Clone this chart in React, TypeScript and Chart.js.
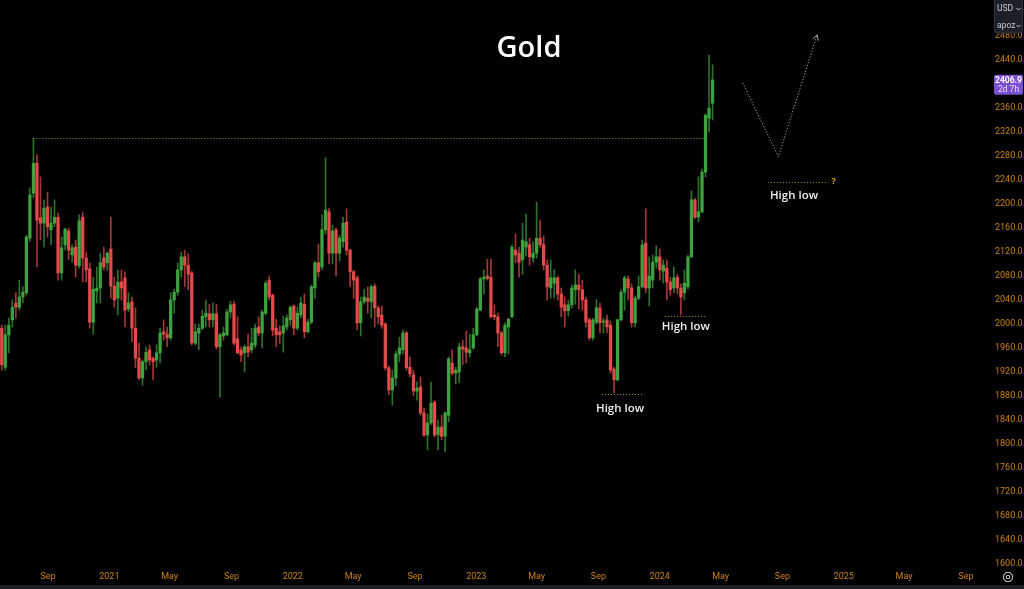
import React, { useEffect, useRef } from "react";
import { Chart, registerables } from "chart.js";

Chart.register(...registerables);

// ---------- DATA ----------
const weekStart = "2020-06-01"; // Monday of the first weekly candle

const opens = [
  1993, 1928, 1982, 2007, 2035, 2028, 2045, 2052, 2143, 2218,
  2268, 2177, 2168, 2195, 2157, 2168, 2178, 2085, 2132, 2155,
  2115, 2128, 2097, 2178, 2110, 2092, 2003, 2055, 2060, 2110,
  2102, 2125, 2063, 2043, 2070, 2077, 2025, 2037, 1993, 1943,
  1910, 1937, 1957, 1943, 1940, 1952, 1987, 1983, 1977, 2040,
  2053, 2090, 2112, 2098, 2085, 1968, 1985, 1993, 2012, 2017,
  2007, 2017, 1962, 1980, 1982, 2020, 2033, 1975, 1957, 1952,
  1962, 1957, 1965, 1995, 1985, 2018, 2073, 2048, 1993, 1987,
  1985, 1995, 2007, 2030, 1993, 2015, 2033, 1987, 2003, 2060,
  2102, 2095, 2157, 2187, 2118, 2157, 2118, 2137, 2170, 2123,
  2087, 2077, 2002, 2037, 2043, 2037, 2063, 2027, 2015, 2000,
  1927, 1890, 1910, 1950, 1957, 1985, 1928, 1915, 1888, 1895,
  1852, 1815, 1835, 1870, 1815, 1828, 1813, 1848, 1935, 1918,
  1920, 1962, 1960, 1952, 1960, 1982, 2023, 2075, 2080, 2078,
  2015, 2012, 1985, 1952, 1995, 2012, 2123, 2118, 2107, 2128,
  2132, 2110, 2118, 2143, 2132, 2098, 2060, 2068, 2077, 2050,
  2032, 2022, 2032, 2057, 2065, 2057, 2040, 2007, 1977, 2003,
  2027, 2003, 2007, 1998, 1925, 1907, 2007, 2053, 2075, 2060,
  2002, 2043, 2062, 2135, 2060, 2073, 2103, 2112, 2088, 2093,
  2070, 2060, 2078, 2060, 2052, 2062, 2112, 2207, 2178, 2187,
  2253, 2343, 2368,
];

const highs = [
  1998, 1998, 2010, 2040, 2052, 2073, 2062, 2148, 2227, 2310,
  2282, 2245, 2207, 2220, 2195, 2207, 2185, 2145, 2160, 2160,
  2132, 2140, 2182, 2187, 2120, 2102, 2078, 2095, 2118, 2128,
  2120, 2178, 2078, 2090, 2090, 2087, 2052, 2045, 2027, 1968,
  1940, 1962, 1965, 1945, 1965, 1993, 2007, 1995, 2052, 2058,
  2102, 2120, 2123, 2117, 2088, 2000, 2000, 2023, 2040, 2033,
  2035, 2033, 1985, 1995, 2025, 2038, 2038, 2012, 1962, 1965,
  1983, 1993, 2000, 2012, 2023, 2072, 2080, 2050, 2008, 1997,
  2013, 2015, 2030, 2032, 2028, 2045, 2050, 2008, 2065, 2105,
  2133, 2182, 2277, 2193, 2165, 2160, 2148, 2178, 2192, 2125,
  2090, 2080, 2045, 2058, 2062, 2065, 2067, 2030, 2030, 2002,
  1930, 1923, 1955, 1978, 1990, 1988, 1945, 1923, 1903, 1912,
  1860, 1850, 1903, 1872, 1840, 1848, 1853, 1945, 1957, 1928,
  1968, 1973, 1988, 1983, 1993, 2028, 2078, 2090, 2108, 2108,
  2032, 2018, 1988, 2002, 2010, 2132, 2150, 2128, 2168, 2183,
  2143, 2137, 2203, 2173, 2147, 2107, 2107, 2090, 2080, 2060,
  2045, 2040, 2065, 2090, 2083, 2073, 2045, 2010, 2010, 2040,
  2035, 2010, 2015, 2005, 1928, 2008, 2057, 2080, 2080, 2067,
  2047, 2080, 2140, 2192, 2112, 2115, 2130, 2125, 2107, 2107,
  2078, 2095, 2083, 2067, 2090, 2115, 2222, 2210, 2245, 2258,
  2350, 2448, 2432,
];

const lows = [
  1923, 1923, 1952, 1995, 2010, 2023, 2035, 2048, 2138, 2210,
  2095, 2140, 2128, 2145, 2132, 2162, 2073, 2073, 2123, 2107,
  2103, 2078, 2093, 2070, 2070, 1993, 1983, 2035, 2035, 2090,
  2090, 2043, 2028, 2015, 2040, 1995, 2020, 1970, 1927, 1907,
  1898, 1923, 1932, 1907, 1928, 1935, 1973, 1962, 1973, 2018,
  2048, 2078, 2062, 2057, 1965, 1965, 1957, 1990, 1995, 1995,
  1995, 1958, 1878, 1973, 1980, 2010, 1965, 1950, 1937, 1920,
  1945, 1952, 1960, 1980, 1960, 2015, 2040, 1980, 1962, 1968,
  1953, 1990, 1998, 1982, 1990, 2010, 1977, 1985, 2000, 2043,
  2078, 2090, 2150, 2100, 2100, 2080, 2105, 2128, 2115, 2062,
  2043, 1990, 1980, 2033, 2018, 2010, 1995, 2000, 1993, 1923,
  1882, 1865, 1897, 1937, 1950, 1923, 1912, 1880, 1873, 1848,
  1812, 1790, 1832, 1812, 1790, 1807, 1787, 1837, 1915, 1900,
  1902, 1932, 1935, 1945, 1958, 1980, 2022, 2050, 2073, 2010,
  2007, 1962, 1948, 1945, 1950, 2010, 2102, 2078, 2083, 2113,
  2098, 2103, 2110, 2128, 2090, 2040, 2043, 2043, 2040, 2012,
  1995, 2013, 2027, 2033, 2025, 2023, 1995, 1973, 1973, 2000,
  1985, 1985, 1985, 1918, 1885, 1905, 2005, 2023, 2040, 1995,
  1995, 2040, 2060, 2052, 2030, 2060, 2093, 2073, 2068, 2040,
  2048, 2052, 2050, 2015, 2040, 2058, 2110, 2175, 2170, 2185,
  2245, 2320, 2340,
];

const closes = [
  1932, 1982, 1998, 2028, 2028, 2045, 2053, 2145, 2215, 2268,
  2173, 2168, 2193, 2162, 2168, 2178, 2085, 2127, 2158, 2123,
  2127, 2098, 2172, 2110, 2090, 2003, 2058, 2060, 2102, 2095,
  2118, 2063, 2040, 2070, 2060, 2023, 2035, 1993, 1943, 1910,
  1937, 1953, 1940, 1937, 1952, 1985, 1983, 1977, 2040, 2053,
  2090, 2112, 2098, 2083, 1968, 1987, 1993, 2013, 2018, 2007,
  2017, 1962, 1982, 1985, 2020, 2032, 1968, 1952, 1948, 1962,
  1953, 1968, 1993, 1985, 2020, 2068, 2045, 1990, 1982, 1982,
  1997, 2010, 2028, 1993, 2018, 2035, 1987, 2003, 2062, 2102,
  2087, 2157, 2190, 2118, 2155, 2118, 2143, 2168, 2123, 2087,
  2073, 2002, 2037, 2045, 2038, 2062, 2027, 2012, 1998, 1927,
  1890, 1910, 1950, 1960, 1985, 1927, 1917, 1888, 1893, 1852,
  1815, 1835, 1868, 1815, 1828, 1813, 1852, 1942, 1918, 1923,
  1962, 1958, 1953, 1957, 1982, 2025, 2075, 2078, 2076, 2012,
  2012, 1985, 1952, 1998, 2008, 2128, 2115, 2103, 2140, 2137,
  2112, 2118, 2143, 2132, 2098, 2062, 2077, 2077, 2050, 2028,
  2022, 2032, 2060, 2065, 2057, 2040, 2003, 1977, 2007, 2027,
  2002, 2005, 1995, 1923, 1907, 2007, 2053, 2077, 2060, 2002,
  2043, 2062, 2132, 2060, 2080, 2103, 2112, 2090, 2098, 2070,
  2057, 2077, 2060, 2045, 2068, 2112, 2207, 2178, 2187, 2253,
  2348, 2360, 2406.9,
];

const xTickDates = [
  "2020-09-01", "2021-01-01", "2021-05-01", "2021-09-01", "2022-01-01", "2022-05-01",
  "2022-09-01", "2023-01-01", "2023-05-01", "2023-09-01", "2024-01-01", "2024-05-01",
  "2024-09-01", "2025-01-01", "2025-05-01", "2025-09-01",
];
const xTickLabels = ["Sep", "2021", "May", "Sep", "2022", "May", "Sep", "2023", "May", "Sep", "2024", "May", "Sep", "2025", "May", "Sep"];
const yTicks = [
  1600, 1640, 1680, 1720, 1760, 1800, 1840, 1880, 1920, 1960, 2000, 2040,
  2080, 2120, 2160, 2200, 2240, 2280, 2320, 2360, 2400, 2440, 2480, 2520,
];
const xRange = ["2020-05-28T12:00:00Z", "2025-10-03T00:00:00Z"];
const yRange = [1593.3, 2540];

const title = "Gold";
const lastPrice = 2406.9;
const countdown = "2d 7h";
const currencyLabels = ["USD", "apoz"];

// dotted horizontal levels
const levelFrom = ["2020-08-03", "2023-09-08", "2024-01-11", "2024-08-03"];
const levelTo = ["2024-03-28", "2023-11-27", "2024-03-31", "2024-12-01"];
const levelPrice = [2310, 1883, 2014, 2236];

// "High low" captions
const captionText = ["High low", "High low", "High low"];
const captionDates = ["2023-10-14", "2024-02-22", "2024-09-24"];
const captionPrices = [1858, 1996, 2213];
const questionDate = "2024-12-12";
const questionPrice = 2236;

// projected path
const projDates = ["2024-06-14", "2024-08-24", "2024-11-09"];
const projPrices = [2402, 2279, 2482];

// ---------- STYLE ----------
const GREEN = "#3ea33e";
const RED = "#e44a4a";
const GREEN_WICK = "#2c722c";
const RED_WICK = "#a53636";
const AXIS_TEXT = "#c8801a";
const LEVEL_COLOR = "#b08f2c";
const AXIS_FONT = "Roboto, 'DejaVu Sans Condensed', sans-serif";

const DAY = 86400000;
const toDay = (s: string) => Date.parse(s.length === 10 ? s + "T00:00:00Z" : s) / DAY;
const candleDays = opens.map((_, i) => toDay(weekStart) + 7 * i);

const drawPlugin = {
  id: "goldDecor",
  beforeDraw(chart: any) {
    const c = chart.ctx;
    c.save();
    c.fillStyle = "#000";
    c.fillRect(0, 0, chart.width, chart.height);
    c.restore();
  },
  afterDatasetsDraw(chart: any) {
    const { ctx, scales } = chart;
    const x = scales.x;
    const y = scales.y;
    ctx.save();
    // dotted levels
    ctx.strokeStyle = LEVEL_COLOR;
    ctx.lineWidth = 1;
    ctx.setLineDash([1, 2]);
    for (let i = 0; i < levelPrice.length; i++) {
      const py = Math.round(y.getPixelForValue(levelPrice[i])) + 0.5;
      ctx.beginPath();
      ctx.moveTo(x.getPixelForValue(toDay(levelFrom[i])), py);
      ctx.lineTo(x.getPixelForValue(toDay(levelTo[i])), py);
      ctx.stroke();
    }
    // projection path
    ctx.strokeStyle = "#a8a8a8";
    ctx.setLineDash([1.2, 1.8]);
    ctx.beginPath();
    const pts = projDates.map((d, i) => [x.getPixelForValue(toDay(d)), y.getPixelForValue(projPrices[i])]);
    pts.forEach((p, i) => (i ? ctx.lineTo(p[0], p[1]) : ctx.moveTo(p[0], p[1])));
    ctx.stroke();
    const tip = pts[pts.length - 1];
    const prev = pts[pts.length - 2];
    const ang = Math.atan2(tip[1] - prev[1], tip[0] - prev[0]);
    ctx.setLineDash([]);
    ctx.beginPath();
    for (const s of [-1, 1]) {
      const a = ang + Math.PI + s * 0.5;
      ctx.moveTo(tip[0], tip[1]);
      ctx.lineTo(tip[0] + 6 * Math.cos(a), tip[1] + 6 * Math.sin(a));
    }
    ctx.stroke();

    // captions
    ctx.fillStyle = "#eeeeee";
    ctx.font = "600 11.5px 'Open Sans', sans-serif";
    ctx.textAlign = "center";
    ctx.textBaseline = "middle";
    captionText.forEach((t, i) => {
      ctx.fillText(t, x.getPixelForValue(toDay(captionDates[i])), y.getPixelForValue(captionPrices[i]));
    });
    ctx.fillStyle = "#d9a21f";
    ctx.font = "bold 9px 'Open Sans', sans-serif";
    ctx.fillText("?", x.getPixelForValue(toDay(questionDate)), y.getPixelForValue(questionPrice) - 1);

    // title
    ctx.fillStyle = "#ffffff";
    ctx.font = "600 29px 'Open Sans', sans-serif";
    ctx.textBaseline = "alphabetic";
    ctx.fillText(title, 529, 57);
    ctx.restore();
  },
  afterDraw(chart: any) {
    const { ctx, scales } = chart;
    const y = scales.y;
    ctx.save();
    // last price label
    const py = y.getPixelForValue(lastPrice);
    ctx.fillStyle = "#7a50d0";
    ctx.beginPath();
    ctx.roundRect(994, py - 5, 29, 20, 2);
    ctx.fill();
    ctx.fillStyle = "#ffffff";
    ctx.textAlign = "center";
    ctx.textBaseline = "middle";
    ctx.font = "bold 8.5px " + AXIS_FONT;
    ctx.fillText(lastPrice.toFixed(1), 1008.5, py + 1);
    ctx.font = "8.5px " + AXIS_FONT;
    ctx.fillStyle = "#e6ddf8";
    ctx.fillText(countdown, 1008.5, py + 10);

    // currency / unit box
    ctx.fillStyle = "#1d2029";
    ctx.strokeStyle = "#30343f";
    ctx.lineWidth = 1;
    ctx.beginPath();
    ctx.roundRect(994.5, -4, 28, 37, 3);
    ctx.fill();
    ctx.stroke();
    ctx.fillStyle = "#c9ccd4";
    ctx.textAlign = "left";
    ctx.font = "8.5px " + AXIS_FONT;
    ctx.fillText(currencyLabels[0], 997, 9);
    ctx.fillText(currencyLabels[1], 997, 26);
    ctx.strokeStyle = "#c9ccd4";
    for (const cy of [9, 26]) {
      ctx.beginPath();
      ctx.moveTo(1016.5, cy - 1);
      ctx.lineTo(1018.5, cy + 1);
      ctx.lineTo(1020.5, cy - 1);
      ctx.stroke();
    }

    // bottom strip
    ctx.fillStyle = "#1b1e26";
    ctx.fillRect(0, 585, chart.width, 4);

    // settings gear
    ctx.strokeStyle = "#b4b7bf";
    ctx.lineWidth = 1.1;
    ctx.beginPath();
    for (let k = 0; k <= 8; k++) {
      const a = (k * Math.PI) / 4 + Math.PI / 8;
      const px = 1008 + 4.8 * Math.cos(a);
      const pyy = 577 + 4.8 * Math.sin(a);
      k ? ctx.lineTo(px, pyy) : ctx.moveTo(px, pyy);
    }
    ctx.stroke();
    ctx.beginPath();
    ctx.arc(1008, 577, 1.8, 0, Math.PI * 2);
    ctx.stroke();
    ctx.restore();
  },
};

export default function App() {
  const ref = useRef<HTMLCanvasElement>(null);
  useEffect(() => {
    document.body.style.margin = "0";
    document.body.style.background = "#000";
    const up = (i: number) => closes[i] >= opens[i];
    const chart = new Chart(ref.current as HTMLCanvasElement, {
      type: "bar",
      data: {
        datasets: [
          {
            label: "body",
            data: opens.map((o, i) => ({ x: candleDays[i], y: [o, closes[i]] })) as any,
            backgroundColor: opens.map((_, i) => (up(i) ? GREEN : RED)),
            barThickness: 2.6,
            minBarLength: 1,
            grouped: false,
            order: 0,
            borderWidth: 0,
          } as any,
          {
            label: "wick",
            data: opens.map((_, i) => ({ x: candleDays[i], y: [lows[i], highs[i]] })) as any,
            backgroundColor: opens.map((_, i) => (up(i) ? GREEN_WICK : RED_WICK)),
            barThickness: 1,
            grouped: false,
            order: 1,
            borderWidth: 0,
          } as any,
        ],
      },
      options: {
        animation: false,
        responsive: false,
        maintainAspectRatio: false,
        devicePixelRatio: 1,
        layout: { padding: 0 },
        plugins: { legend: { display: false }, tooltip: { enabled: false }, title: { display: false } },
        scales: {
          x: {
            type: "linear",
            offset: false,
            min: toDay(xRange[0]),
            max: toDay(xRange[1]),
            grid: { display: false, drawTicks: false },
            border: { display: false },
            afterBuildTicks: (axis: any) => {
              axis.ticks = xTickDates.map((d) => ({ value: toDay(d) }));
            },
            afterFit: (axis: any) => {
              axis.height = 21;
              axis.paddingLeft = 0;
              axis.paddingRight = 0;
            },
            ticks: {
              autoSkip: false,
              maxRotation: 0,
              padding: 3,
              color: AXIS_TEXT,
              font: { family: AXIS_FONT, size: 9 },
              callback: (_v: any, i: number) => xTickLabels[i],
            },
          },
          y: {
            type: "linear",
            position: "right",
            min: yRange[0],
            max: yRange[1],
            grid: { display: false, drawTicks: false },
            border: { display: false },
            afterBuildTicks: (axis: any) => {
              axis.ticks = yTicks.map((v) => ({ value: v }));
            },
            afterFit: (axis: any) => {
              axis.width = 42;
              axis.paddingTop = 0;
              axis.paddingBottom = 0;
            },
            ticks: {
              padding: 13,
              color: AXIS_TEXT,
              font: { family: AXIS_FONT, size: 9 },
              callback: (v: any) => Number(v).toFixed(1),
            },
          },
        },
      } as any,
      plugins: [drawPlugin],
    });
    return () => chart.destroy();
  }, []);
  return (
    <div style={{ width: 1024, height: 589, background: "#000", overflow: "hidden" }}>
      <canvas ref={ref} width={1024} height={589} style={{ display: "block", width: 1024, height: 589 }} />
    </div>
  );
}
